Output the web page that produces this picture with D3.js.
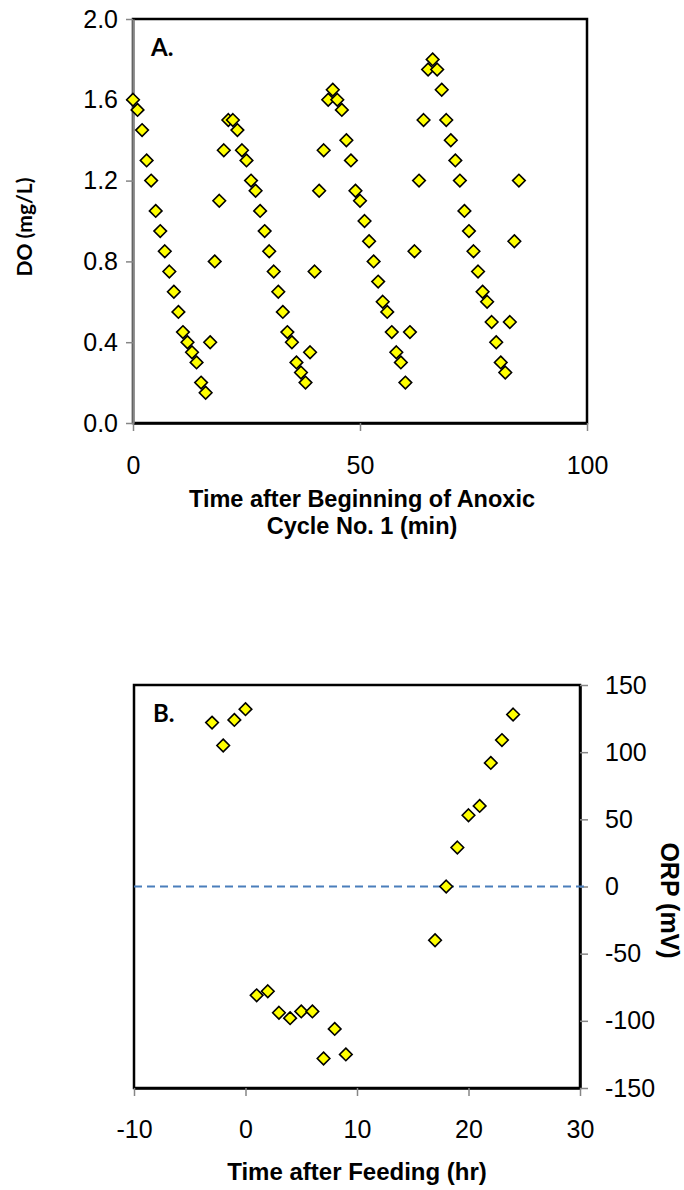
<!DOCTYPE html>
<html>
<head>
<meta charset="utf-8">
<script src="https://cdn.jsdelivr.net/npm/d3@7"></script>
<style>
  body { margin: 0; background: #fff; }
  svg { display: block; }
  .tick text { font-family: "Liberation Sans", Arial, sans-serif; font-size: 25px; fill: #000; }
</style>
</head>
<body>
<svg id="chart" width="684" height="1190"></svg>
<script>
// Panel A: dissolved oxygen over successive anoxic cycles (minutes)
const doTime = [0,1,2,3,4,5,6,7,8,9,10,11,12,13,14,15,16,17,18,19,20,21,22,23,24,25,26,27,28,29,
  30,31,32,33,34,35,36,37,38,39,40,41,42,43,44,45,46,47,48,49,50,51,52,53,54,55,56,57,58,59,
  60,61,62,63,64,65,66,67,68,69,70,71,72,73,74,75,76,77,78,79,80,81,82,83,84,85];
const doValue = [1.6,1.55,1.45,1.3,1.2,1.05,0.95,0.85,0.75,0.65,0.55,0.45,0.4,0.35,0.3,0.2,0.15,0.4,0.8,1.1,
  1.35,1.5,1.5,1.45,1.35,1.3,1.2,1.15,1.05,0.95,0.85,0.75,0.65,0.55,0.45,0.4,0.3,0.25,0.2,0.35,
  0.75,1.15,1.35,1.6,1.65,1.6,1.55,1.4,1.3,1.15,1.1,1.0,0.9,0.8,0.7,0.6,0.55,0.45,0.35,0.3,
  0.2,0.45,0.85,1.2,1.5,1.75,1.8,1.75,1.65,1.5,1.4,1.3,1.2,1.05,0.95,0.85,0.75,0.65,0.6,0.5,
  0.4,0.3,0.25,0.5,0.9,1.2];
const doTicksX = [0, 50, 100];
const doTicksY = [0, 0.4, 0.8, 1.2, 1.6, 2.0];

// Panel B: oxidation-reduction potential around a feeding event (hours)
const orpTime = [-3,-2,-1,0,1,2,3,4,5,6,7,8,9,17,18,19,20,21,22,23,24];
const orpValue = [122,105,124,132,-81,-78,-94,-98,-93,-93,-128,-106,-125,-40,0,29,53,60,92,109,128];
const orpTicksX = [-10, 0, 10, 20, 30];
const orpTicksY = [-150, -100, -50, 0, 50, 100, 150];
const orpReference = 0;

const svg = d3.select("#chart");
const markerR = 6.3;
const diamond = `M0,${-markerR}L${markerR},0L0,${markerR}L${-markerR},0Z`;
const axisGray = "#868686";
// plain hyphen-minus for negative tick labels
const intLabel = d => String(d);

function styleAxis(g, domainColor) {
  g.select(".domain").attr("stroke", domainColor).attr("stroke-width", 2.5);
  g.selectAll(".tick line").attr("stroke", axisGray).attr("stroke-width", 1.5);
}

// ---------- Panel A ----------
const xA = d3.scaleLinear().domain([0, 100]).range([133, 587]);
const yA = d3.scaleLinear().domain([0, 2]).range([423, 19]);

svg.append("rect")
  .attr("x", xA(0)).attr("y", yA(2))
  .attr("width", xA(100) - xA(0)).attr("height", yA(0) - yA(2))
  .attr("fill", "none").attr("stroke", "#000").attr("stroke-width", 2.5);

svg.append("g")
  .attr("transform", `translate(0,${yA(0)})`)
  .call(d3.axisBottom(xA).tickValues(doTicksX).tickFormat(intLabel)
        .tickSize(8).tickSizeOuter(0).tickPadding(25))
  .call(g => styleAxis(g, "#000"));

svg.append("g")
  .attr("transform", `translate(${xA(0)},0)`)
  .call(d3.axisLeft(yA).tickValues(doTicksY).tickFormat(d3.format(".1f"))
        .tickSize(7).tickSizeOuter(0).tickPadding(8))
  .call(g => styleAxis(g, axisGray));

svg.append("g")
  .selectAll("path")
  .data(doTime.map((t, i) => [t, doValue[i]]))
  .join("path")
  .attr("d", diamond)
  .attr("transform", d => `translate(${xA(d[0])},${yA(d[1])})`)
  .attr("fill", "#FFFF00").attr("stroke", "#000").attr("stroke-width", 1.6);

svg.append("text")
  .attr("x", 151).attr("y", 56)
  .attr("font-family", "Lato, 'Open Sans', sans-serif").attr("font-weight", 700)
  .attr("font-size", 24).text("A.");

svg.append("text")
  .attr("transform", `translate(32,${(yA(0) + yA(2)) / 2 + 6}) rotate(-90)`)
  .attr("text-anchor", "middle")
  .attr("font-family", "Lato, 'Open Sans', sans-serif").attr("font-weight", 700)
  .attr("font-size", 21).text("DO (mg/L)");

const titleA = svg.append("text")
  .attr("text-anchor", "middle")
  .attr("font-family", "'Liberation Sans', Arial, sans-serif").attr("font-weight", 700)
  .attr("font-size", 23.5);
titleA.append("tspan").attr("x", 362).attr("y", 507).text("Time after Beginning of Anoxic");
titleA.append("tspan").attr("x", 362).attr("y", 534).text("Cycle No. 1 (min)");

// ---------- Panel B ----------
const xB = d3.scaleLinear().domain([-10, 30]).range([134, 580]);
const yB = d3.scaleLinear().domain([-150, 150]).range([1088, 685]);

svg.append("rect")
  .attr("x", xB(-10)).attr("y", yB(150))
  .attr("width", xB(30) - xB(-10)).attr("height", yB(-150) - yB(150))
  .attr("fill", "none").attr("stroke", "#000").attr("stroke-width", 2.5);

svg.append("g")
  .attr("transform", `translate(0,${yB(-150)})`)
  .call(d3.axisBottom(xB).tickValues(orpTicksX).tickFormat(intLabel)
        .tickSize(8).tickSizeOuter(0).tickPadding(24))
  .call(g => styleAxis(g, "#000"));

svg.append("g")
  .attr("transform", `translate(${xB(30)},0)`)
  .call(d3.axisRight(yB).tickValues(orpTicksY).tickFormat(intLabel)
        .tickSize(8).tickSizeOuter(0).tickPadding(17))
  .call(g => styleAxis(g, "#000"));

// zero reference line, running out to the tick on the right axis
svg.append("line")
  .attr("x1", xB(-10)).attr("x2", xB(30) + 8)
  .attr("y1", yB(orpReference)).attr("y2", yB(orpReference))
  .attr("stroke", "#4A7EBB").attr("stroke-width", 2)
  .attr("stroke-dasharray", "8,5");

svg.append("g")
  .selectAll("path")
  .data(orpTime.map((t, i) => [t, orpValue[i]]))
  .join("path")
  .attr("d", diamond)
  .attr("transform", d => `translate(${xB(d[0])},${yB(d[1])})`)
  .attr("fill", "#FFFF00").attr("stroke", "#000").attr("stroke-width", 1.6);

svg.append("text")
  .attr("x", 153).attr("y", 722)
  .attr("font-family", "Lato, 'Open Sans', sans-serif").attr("font-weight", 700)
  .attr("font-size", 24).text("B.");

svg.append("text")
  .attr("transform", `translate(661,${(yB(-150) + yB(150)) / 2 + 14}) rotate(90)`)
  .attr("text-anchor", "middle")
  .attr("font-family", "'Liberation Sans', Arial, sans-serif").attr("font-weight", 700)
  .attr("font-size", 25).text("ORP (mV)");

svg.append("text")
  .attr("x", 357).attr("y", 1180)
  .attr("text-anchor", "middle")
  .attr("font-family", "'Liberation Sans', Arial, sans-serif").attr("font-weight", 700)
  .attr("font-size", 24).text("Time after Feeding (hr)");
</script>
</body>
</html>
